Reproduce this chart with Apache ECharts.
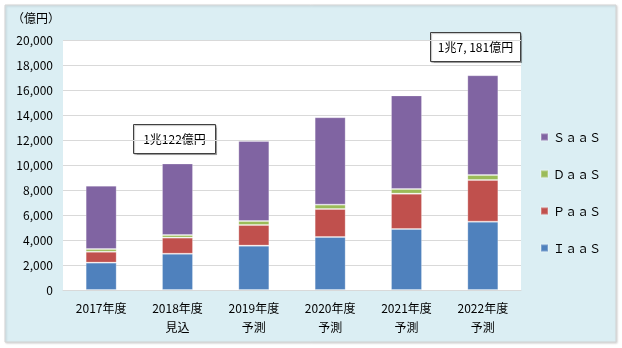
<!DOCTYPE html>
<html><head><meta charset="utf-8">
<script src="https://cdn.jsdelivr.net/npm/echarts@6/dist/echarts.min.js"></script>
<style>html,body{margin:0;padding:0;background:#fff}#c{width:622px;height:348px}</style>
</head><body><div id="c"></div>
<script>
const categories = ['2017年度', '2018年度\n見込', '2019年度\n予測', '2020年度\n予測', '2021年度\n予測', '2022年度\n予測'];
const iaas = [2190, 2900, 3550, 4240, 4880, 5470];
const paas = [870, 1290, 1650, 2240, 2830, 3330];
const daas = [220, 210, 320, 350, 370, 400];
const saas = [5070, 5722, 6400, 6990, 7490, 7981];
const seriesNames = ['ＩａａＳ', 'ＰａａＳ', 'ＤａａＳ', 'ＳａａＳ'];
const seriesColors = ['#4F81BD', '#C0504D', '#9BBB59', '#8064A2'];
const yTicks = [0, 2000, 4000, 6000, 8000, 10000, 12000, 14000, 16000, 18000, 20000];
const unitLabel = '（億円）';
const note1 = '1兆122億円';
const note2 = '1兆7, 181億円';

const FONT = '"Noto Sans CJK JP", "Noto Sans", sans-serif';
const chart = echarts.init(document.getElementById('c'));
const data = [iaas, paas, daas, saas];
chart.setOption({
  animation: false,
  backgroundColor: '#fff',
  textStyle: { fontFamily: FONT },
  graphic: [
    { type: 'rect', z: -10, shape: { x: 5, y: 5, width: 611, height: 337 },
      style: { fill: '#DBEEF3', stroke: '#D4D4D4', lineWidth: 1, shadowColor: 'rgba(0,0,0,0.15)', shadowBlur: 2, shadowOffsetX: 1, shadowOffsetY: 1 } },
    { type: 'text', left: 12, top: 12, z: 10,
      style: { text: unitLabel, font: '12px ' + FONT, fill: '#000' } },
    { type: 'group', left: 133, top: 124, z: 20, children: [
      { type: 'rect', shape: { x: 0, y: 0, width: 82, height: 29 },
        style: { fill: '#fff', stroke: '#404040', lineWidth: 1, shadowColor: 'rgba(0,0,0,0.25)', shadowOffsetX: 1, shadowOffsetY: 1, shadowBlur: 1 } },
      { type: 'text', style: { x: 41, y: 15, text: note1, align: 'center', verticalAlign: 'middle', font: '12px ' + FONT, fill: '#000' } }
    ]},
    { type: 'group', left: 430, top: 32, z: 20, children: [
      { type: 'rect', shape: { x: 0, y: 0, width: 90, height: 29 },
        style: { fill: '#fff', stroke: '#404040', lineWidth: 1, shadowColor: 'rgba(0,0,0,0.25)', shadowOffsetX: 1, shadowOffsetY: 1, shadowBlur: 1 } },
      { type: 'text', style: { x: 45, y: 15, text: note2, align: 'center', verticalAlign: 'middle', font: '12px ' + FONT, fill: '#000' } }
    ]}
  ],
  grid: { left: 63, right: 101, top: 40, bottom: 58, show: true, backgroundColor: '#fff', borderWidth: 0 },
  legend: {
    orient: 'vertical', left: 535, top: 126, itemWidth: 7, itemHeight: 7, itemGap: 25,
    data: [seriesNames[3], seriesNames[2], seriesNames[1], seriesNames[0]],
    textStyle: { fontSize: 12, color: '#000', fontFamily: FONT },
    icon: 'rect'
  },
  xAxis: {
    type: 'category', data: categories,
    axisLine: { lineStyle: { color: '#D9D9D9', width: 1 } },
    axisTick: { show: false },
    axisLabel: { color: '#000', fontSize: 12, lineHeight: 19, margin: 9, interval: 0 }
  },
  yAxis: {
    type: 'value', min: yTicks[0], max: yTicks[yTicks.length - 1], interval: 2000,
    axisLine: { show: false }, axisTick: { show: false },
    splitLine: { lineStyle: { color: '#D9D9D9', width: 1 } },
    axisLabel: { color: '#000', fontSize: 12, margin: 10,
      formatter: v => v.toLocaleString('en-US') }
  },
  series: data.map((d, i) => ({
    name: seriesNames[i], type: 'bar', stack: 'total', barWidth: 31, data: d,
    itemStyle: { color: seriesColors[i], borderColor: 'rgba(255,255,255,0.25)', borderWidth: 1 }
  }))
});
</script></body></html>
